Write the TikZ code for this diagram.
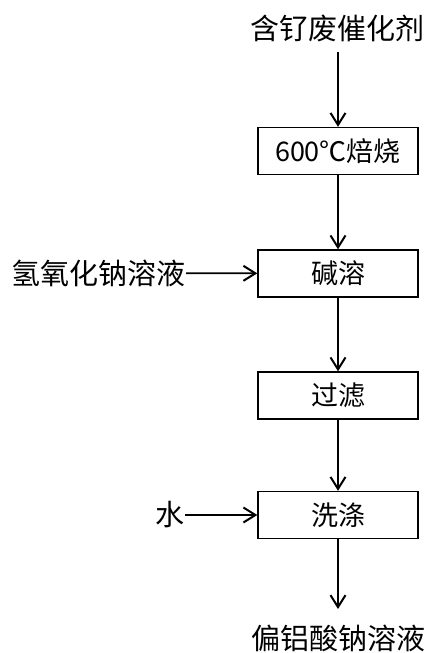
\documentclass[tikz,border=0pt]{standalone}
\usepackage{fontspec}
\newfontfamily\cjk{Noto Sans CJK SC}
\usetikzlibrary{arrows.meta}
\begin{document}
\begin{tikzpicture}[x=1pt,y=-1pt,
  stepbox/.style={draw,line width=1.4pt,minimum width=160pt,minimum height=47pt,inner sep=0pt,font=\cjk\fontsize{27}{29}\selectfont},
  lbl/.style={inner sep=0pt,font=\cjk\fontsize{29}{31}\selectfont},
  flow/.style={line width=1.8pt,-{Straight Barb[length=12pt,width=15pt,line width=2pt]}}]
\useasboundingbox (0,0) rectangle (428,653);
\node[lbl] (src) at (337,28) {含钌废催化剂};
\node[stepbox] (b1) at (338,151) {600℃焙烧};
\node[stepbox] (b2) at (338,273.5) {碱溶};
\node[stepbox] (b3) at (338,395.5) {过滤};
\node[stepbox] (b4) at (338,515) {洗涤};
\node[lbl,anchor=east] (naoh) at (186,273) {氢氧化钠溶液};
\node[lbl,anchor=east] (water) at (185,515) {水};
\node[lbl] (prod) at (338,638) {偏铝酸钠溶液};
\coordinate (p1) at (338,52);
\coordinate (p2) at (338,609);
\draw[flow] (p1) -- (b1.north);
\draw[flow] (b1) -- (b2);
\draw[flow] (b2) -- (b3);
\draw[flow] (b3) -- (b4);
\draw[flow] (b4.south) -- (p2);
\draw[flow] (naoh) -- (b2);
\draw[flow] (water) -- (b4);
\end{tikzpicture}
\end{document}
